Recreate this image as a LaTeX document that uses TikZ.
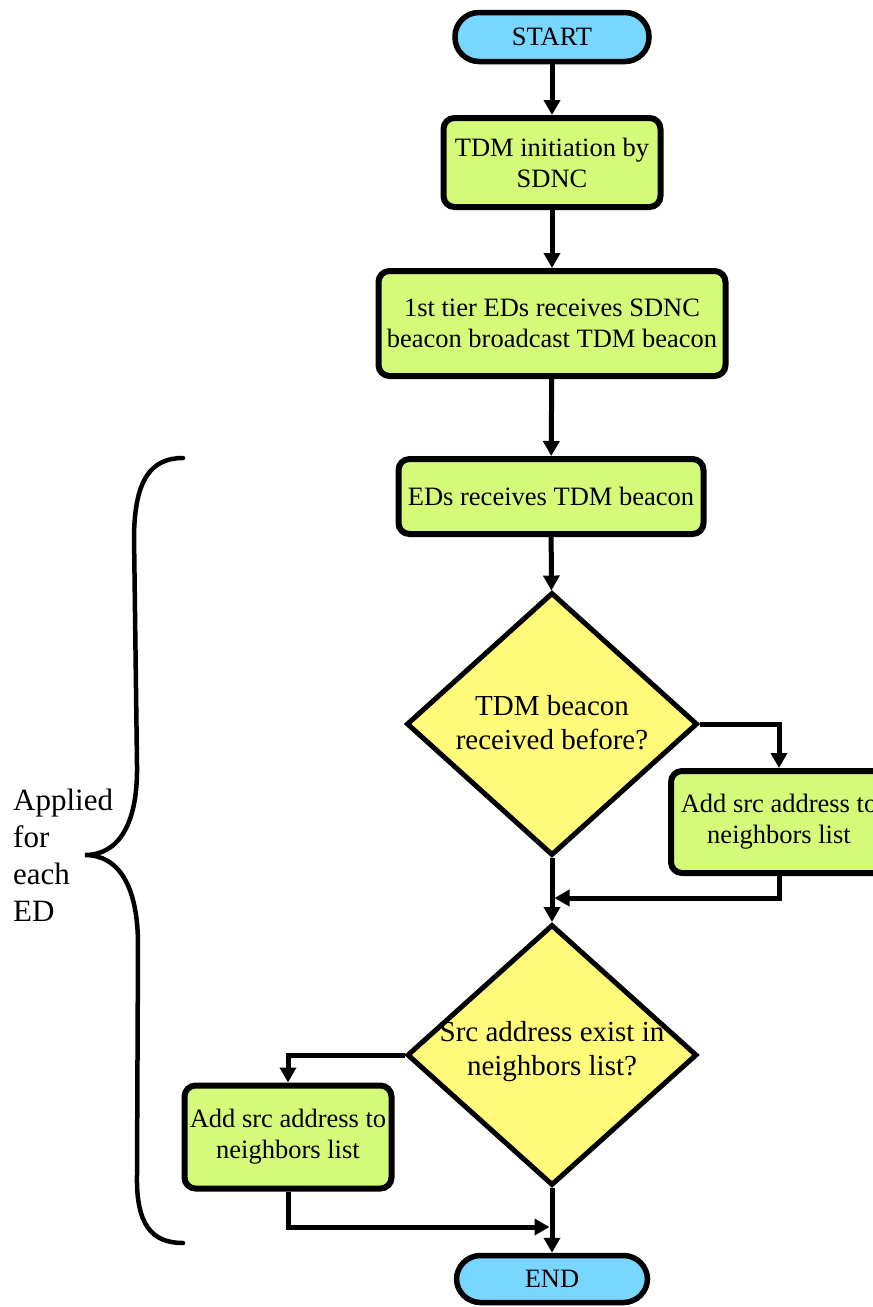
\documentclass[tikz,border=0pt]{standalone}
\usepackage{fontspec}
\setmainfont{Liberation Serif}
\usetikzlibrary{shapes.geometric,arrows.meta}
\definecolor{procgreen}{RGB}{213,250,122}
\definecolor{decyellow}{RGB}{255,250,122}
\definecolor{termblue}{RGB}{120,214,255}
\begin{document}
\begin{tikzpicture}[x=1pt,y=-1pt,
  txt/.style={align=center, font=\fontsize{26.5}{31}\selectfont},
  dectxt/.style={align=center, font=\fontsize{29}{34}\selectfont},
  proc/.style={txt, draw, line width=6pt, rounded corners=11pt, fill=procgreen, inner sep=0pt},
  term/.style={txt, draw, line width=5.5pt, rounded corners=24pt, fill=termblue, inner sep=0pt},
  dec/.style={diamond, draw, line width=5pt, fill=decyellow, inner sep=0pt},
  flow/.style={line width=5pt, -{Triangle[width=16pt,length=15pt]}},
  bracestyle/.style={line width=4.5pt, line cap=round},
]
\useasboundingbox (0,0) rectangle (873,1307);
\clip (0,0) rectangle (873,1307);

% main column
\node[term, minimum width=194pt, minimum height=49pt] (start) at (552,37) {START};
\node[proc, minimum width=217pt, minimum height=89pt] (b1) at (552,162.5) {TDM initiation by\\SDNC};
\node[proc, minimum width=347pt, minimum height=105pt] (b2) at (552,323.5) {1st tier EDs receives SDNC\\beacon broadcast TDM beacon};
\node[proc, minimum width=305pt, minimum height=75pt] (b3) at (551,496.5) {EDs receives TDM beacon};
\node[dec, minimum width=291pt, minimum height=263pt] (d1) at (552,724) {};
\node[dectxt] at ([yshift=1pt]d1.center) {TDM beacon\\received before?};
\node[proc, minimum width=216pt, minimum height=102pt] (b4) at (779,822) {Add src address to\\neighbors list};
\node[dec, minimum width=290pt, minimum height=261pt] (d2) at (552,1055) {};
\node[dectxt] at ([yshift=3pt]d2.center) {Src address exist in\\neighbors list?};
\node[proc, minimum width=207pt, minimum height=103pt] (b5) at (288,1137) {Add src address to\\neighbors list};
\node[term, minimum width=191pt, minimum height=47pt] (end) at (552,1279) {END};

% junction points on the main column
\coordinate (j1) at (552,898);
\coordinate (j2) at (552,1227);

% connectors
\draw[flow] (start) -- (b1);
\draw[flow] (b1) -- (b2);
\draw[flow] (b2) -- (b3);
\draw[flow] (b3) -- (d1);
\draw[flow] (d1.east) -| (b4.north);
\draw[flow] (b4.south) |- ([xshift=2.5pt]j1);
\draw[flow] (d1.south) -- (d2.north);
\draw[flow] (d2.west) -| (b5.north);
\draw[flow] (b5.south) |- ([xshift=-2.5pt]j2);
\draw[flow] (d2.south) -- (end.north);

% curly brace and its label
\draw[bracestyle] (183,458) .. controls (152,458) and (135,478) .. (134,535)
  -- (137,765) .. controls (138,825) and (118,855) .. (85,855)
  .. controls (118,855) and (138,885) .. (138,945)
  -- (137,1175) .. controls (136,1225) and (152,1243) .. (183,1243);
\node[align=left, anchor=west, inner sep=0pt, font=\fontsize{31}{37}\selectfont] (lbl) at (13,855) {Applied\\for\\each\\ED};
\end{tikzpicture}
\end{document}
